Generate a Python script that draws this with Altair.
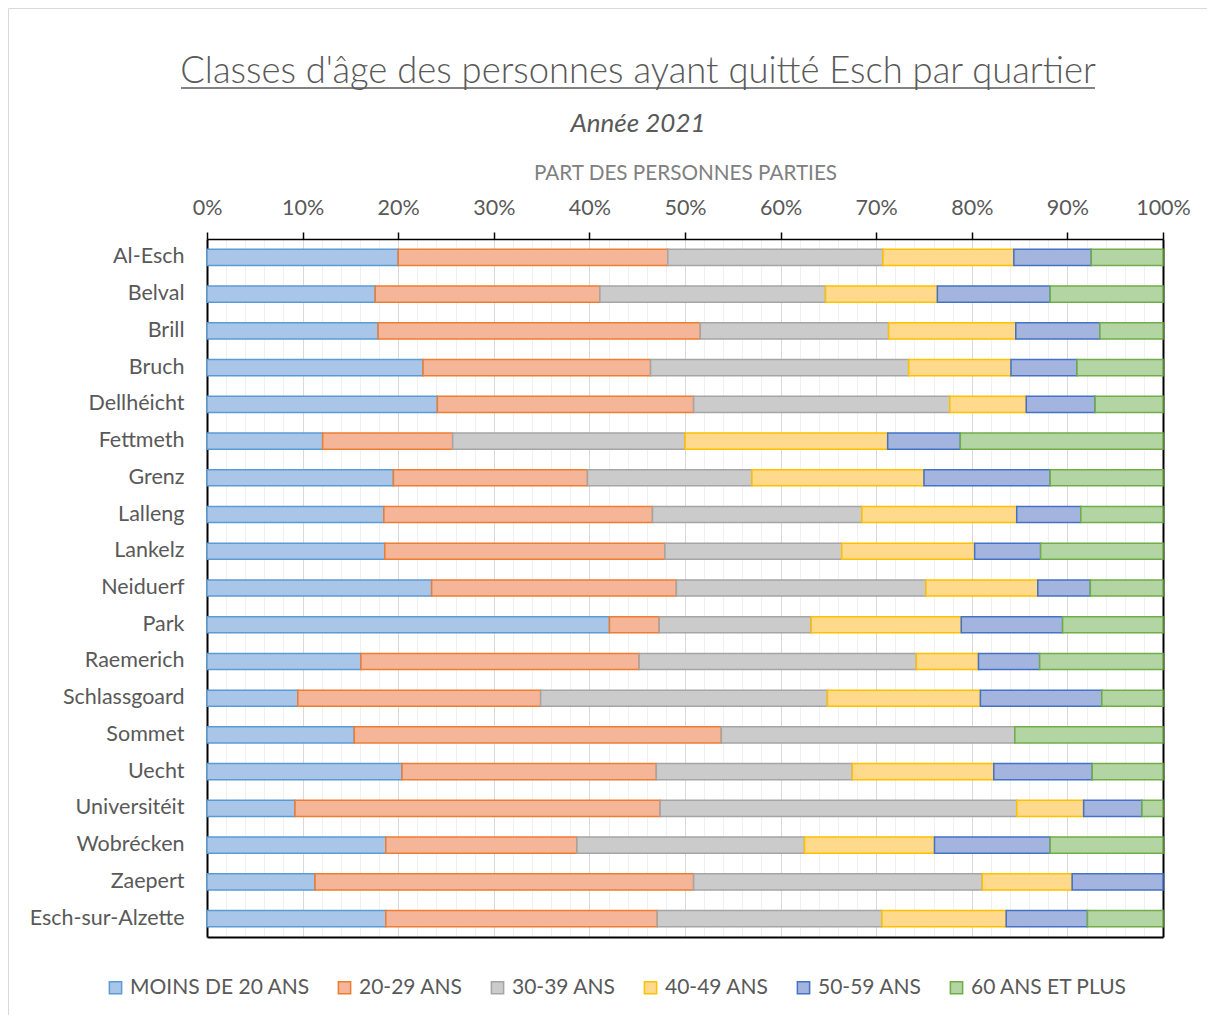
import altair as alt
import pandas as pd

quartiers = ["Al-Esch", "Belval", "Brill", "Bruch", "Dellhéicht", "Fettmeth", "Grenz",
             "Lalleng", "Lankelz", "Neiduerf", "Park", "Raemerich", "Schlassgoard",
             "Sommet", "Uecht", "Universitéit", "Wobrécken", "Zaepert", "Esch-sur-Alzette"]
classes = ["MOINS DE 20 ANS", "20-29 ANS", "30-39 ANS", "40-49 ANS", "50-59 ANS", "60 ANS ET PLUS"]

moins20 = [20.0, 17.6, 17.9, 22.6, 24.1, 12.1, 19.5, 18.5, 18.6, 23.5, 42.1, 16.1, 9.5, 15.4, 20.4, 9.2, 18.7, 11.3, 18.7]
a20_29 = [28.2, 23.5, 33.7, 23.8, 26.8, 13.6, 20.3, 28.1, 29.3, 25.6, 5.2, 29.1, 25.4, 38.4, 26.6, 38.2, 20.0, 39.6, 28.4]
a30_39 = [22.5, 23.6, 19.7, 27.0, 26.8, 24.3, 17.2, 21.9, 18.5, 26.1, 15.9, 29.0, 30.0, 30.7, 20.5, 37.3, 23.8, 30.2, 23.5]
a40_49 = [13.7, 11.7, 13.3, 10.7, 8.0, 21.2, 18.0, 16.2, 13.9, 11.7, 15.7, 6.5, 16.0, 0.0, 14.8, 7.0, 13.6, 9.4, 13.0]
a50_59 = [8.1, 11.8, 8.8, 6.9, 7.2, 7.6, 13.2, 6.7, 6.9, 5.5, 10.6, 6.4, 12.7, 0.0, 10.3, 6.1, 12.1, 9.5, 8.5]
plus60 = [7.5, 11.8, 6.6, 9.0, 7.1, 21.2, 11.8, 8.6, 12.8, 7.6, 10.5, 12.9, 6.4, 15.5, 7.4, 2.2, 11.8, 0.0, 7.9]

fill_colors = ["#a9c6e8", "#f5b598", "#cbcbcb", "#ffd98c", "#a3b4df", "#b3d5a3"]
stroke_colors = ["#5b9bd5", "#ed7d31", "#a5a5a5", "#ffc000", "#4472c4", "#70ad47"]

series = [moins20, a20_29, a30_39, a40_49, a50_59, plus60]
rows = []
for ci, (cl, vals) in enumerate(zip(classes, series)):
    for q, v in zip(quartiers, vals):
        if v > 0:
            rows.append({"quartier": q, "classe": cl, "idx": ci, "pct": v})
df = pd.DataFrame(rows)

FONT = "Lato"
GREY = "#595959"

tick_vals = [i / 50 for i in range(51)]
major_test = "round(datum.value*100) % 10 === 0"
edge_test = "datum.value < 0.001 || datum.value > 0.999"

xscale = alt.Scale(domain=[0, 1], nice=False)
yscale = alt.Scale(paddingInner=0.56, paddingOuter=0.28)

legend = alt.Legend(
    title=None, orient="none", direction="horizontal", legendX=-102, legendY=738,
    labelFontSize=21, labelColor=GREY, labelFont=FONT, labelLimit=0, symbolType="square",
    symbolSize=150, symbolStrokeWidth=1.5, columnPadding=24, labelOffset=4,
)

bars = alt.Chart(df).mark_bar(strokeWidth=1.5).encode(
    x=alt.X("pct:Q", stack="normalize", scale=xscale,
            axis=alt.Axis(
                orient="top", values=tick_vals,
                labelExpr="round(datum.value*100) % 10 === 0 ? round(datum.value*100) + '%' : ''",
                title="PART DES PERSONNES PARTIES",
                titleFontSize=20.7, titleFont=FONT, titleColor="#808080", titleFontWeight="normal",
                titlePadding=14,
                labelFontSize=21.5, labelFont=FONT, labelColor=GREY, labelPadding=13,
                labelFlush=False, labelOverlap=False,
                tickSize=7, tickWidth=1.5,
                tickColor={"condition": {"test": major_test, "value": "black"}, "value": "transparent"},
                grid=True, gridWidth=1,
                gridColor={"condition": [{"test": edge_test, "value": "transparent"},
                                         {"test": major_test, "value": "#d9d9d9"}],
                           "value": "#f0f0f0"},
                domainColor="black", domainWidth=1.5,
            )),
    y=alt.Y("quartier:N", sort=quartiers, scale=yscale,
            axis=alt.Axis(title=None, labelFontSize=21.5, labelFont=FONT, labelColor=GREY,
                          ticks=False, domain=True, domainColor="black", domainWidth=2,
                          labelPadding=23)),
    fill=alt.Fill("classe:N", scale=alt.Scale(domain=classes, range=fill_colors), legend=legend),
    stroke=alt.Stroke("classe:N", scale=alt.Scale(domain=classes, range=stroke_colors), legend=legend),
    order=alt.Order("idx:Q"),
)

# invisible copy whose bottom and right axes close the plot frame
frame_axes = alt.Chart(df).mark_bar(opacity=0).encode(
    x=alt.X("pct:Q", stack="normalize", scale=xscale,
            axis=alt.Axis(orient="bottom", labels=False, ticks=False, grid=False, title=None,
                          domainColor="black", domainWidth=2)),
    y=alt.Y("quartier:N", sort=quartiers, scale=yscale,
            axis=alt.Axis(orient="right", labels=False, ticks=False, grid=False, title=None,
                          domainColor="black", domainWidth=2)),
    order=alt.Order("idx:Q"),
)

one = alt.Chart(pd.DataFrame({"a": [0]}))
underline = one.mark_rule(color=GREY, strokeWidth=1.5).encode(
    x=alt.value(-26), x2=alt.value(888), y=alt.value(-151))
frame = one.mark_rect(fill="transparent", stroke="#d9d9d9", strokeWidth=1).encode(
    x=alt.value(-198.5), x2=alt.value(1020), y=alt.value(-230.5), y2=alt.value(800))

chart = alt.layer(frame, bars, frame_axes, underline).resolve_axis(
    x="independent", y="independent"
).properties(
    width=956, height=698,
    autosize=alt.AutoSizeParams(type="none"),
    padding={"left": 199, "top": 231, "right": 44, "bottom": 78},
    title=alt.TitleParams(
        "Classes d'âge des personnes ayant quitté Esch par quartier",
        subtitle="Année 2021",
        anchor="middle", dx=-47, fontSize=36.4, font=FONT, fontWeight=300, color=GREY,
        subtitleFont=FONT, subtitleFontSize=26, subtitleFontStyle="italic", subtitleColor=GREY,
        subtitlePadding=21, offset=-129,
    ),
).configure_view(stroke="black", strokeWidth=2).configure(background="white")

chart.save("out.html", embed_options={"renderer": "svg", "actions": False})
